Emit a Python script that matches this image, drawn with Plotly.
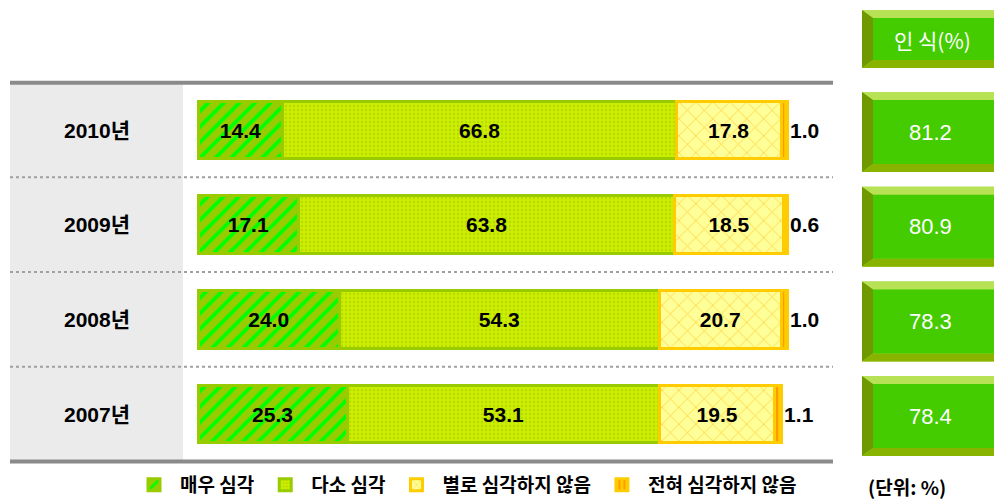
import plotly.graph_objects as go

# ---- data ----
years = ["2010년", "2009년", "2008년", "2007년"]
very_serious = [14.4, 17.1, 24.0, 25.3]
somewhat_serious = [66.8, 63.8, 54.3, 53.1]
not_very_serious = [17.8, 18.5, 20.7, 19.5]
not_at_all_serious = [1.0, 0.6, 1.0, 1.1]
awareness = [81.2, 80.9, 78.3, 78.4]
series_names = ["매우 심각", "다소 심각", "별로 심각하지 않음", "전혀 심각하지 않음"]
header_text = "인 식(%)"
unit_text = "(단위: %)"

# ---- geometry helpers (pixel -> axis units) ----
W, H = 994, 500
X0PX, PX_PER_UNIT = 198.0, 5.89
Y0PX, PX_PER_ROW = 130.0, 94.7


def px2x(px):
    return (px - X0PX) / PX_PER_UNIT


def px2y(px):
    return (px - Y0PX) / PX_PER_ROW


rows = list(range(len(years)))

fig = go.Figure()

num_font = dict(family="Liberation Sans, Arial, sans-serif", size=21, color="black")

styles = [
    dict(bg="#99CC00", fg="#00FF00", shape="/", size=11, solidity=0.35, line="#99CC00"),
    dict(bg="#CCEE00", fg="#B8DC00", shape=".", size=4, solidity=0.3, line="#99CC00"),
    dict(bg="#FFFF99", fg="#FFCC33", shape="x", size=12, solidity=0.12, line="#FFCC00"),
    dict(bg="#FFCC00", fg="#FF9900", shape="|", size=6, solidity=0.4, line="#FFCC00"),
]
series = [very_serious, somewhat_serious, not_very_serious, not_at_all_serious]

for i, (name, vals, st) in enumerate(zip(series_names, series, styles)):
    fig.add_trace(go.Bar(
        x=vals, y=rows, orientation="h", name=name,
        marker=dict(
            color=st["bg"],
            line=dict(color=st["line"], width=3),
            pattern=dict(shape=st["shape"], fgcolor=st["fg"], bgcolor=st["bg"],
                         size=st["size"], solidity=st["solidity"], fillmode="replace"),
        ),
        text=[f"{v:.1f}" for v in vals],
        texttemplate="<b>%{text}</b>",
        textposition="outside" if i == 3 else "inside",
        insidetextanchor="middle",
        textfont=num_font,
        constraintext="none",
        cliponaxis=False,
        hoverinfo="skip",
    ))

shapes = []
line_x0, line_x1 = px2x(10), px2x(833)
# gray band behind year labels
shapes.append(dict(type="rect", xref="x", yref="y", x0=line_x0, x1=px2x(183),
                   y0=-0.5, y1=3.5, fillcolor="#EBEBEB", line=dict(width=0), layer="below"))
# top / bottom solid rules
for yy in (-0.5, 3.5):
    shapes.append(dict(type="line", xref="x", yref="y", x0=line_x0, x1=line_x1,
                       y0=yy, y1=yy, line=dict(color="#8A8A8A", width=4), layer="above"))
# dotted separators
for yy in (0.5, 1.5, 2.5):
    shapes.append(dict(type="line", xref="x", yref="y", x0=line_x0, x1=line_x1,
                       y0=yy, y1=yy, line=dict(color="#A0A0A0", width=2, dash="dot"), layer="above"))


def bevel_box(yc, half_h):
    bx0, bx1 = px2x(862), px2x(1010)
    y0, y1 = yc - half_h, yc + half_h
    bw = 11 / PX_PER_UNIT
    bh = 8 / PX_PER_ROW
    out = []
    out.append(dict(type="rect", xref="x", yref="y", x0=bx0, x1=bx1, y0=y0, y1=y1,
                     fillcolor="#A8D838", line=dict(width=0)))
    # top light bevel
    out.append(dict(type="path", xref="x", yref="y",
                     path=f"M{bx0},{y0} L{bx1},{y0} L{bx1},{y0+bh} L{bx0+bw},{y0+bh} Z",
                     fillcolor="#B8E255", line=dict(width=0)))
    # left dark bevel
    out.append(dict(type="path", xref="x", yref="y",
                     path=f"M{bx0},{y0} L{bx0+bw},{y0+bh} L{bx0+bw},{y1-bh} L{bx0},{y1} Z",
                     fillcolor="#6E9A00", line=dict(width=0)))
    # bottom darker bevel
    out.append(dict(type="path", xref="x", yref="y",
                     path=f"M{bx0},{y1} L{bx0+bw},{y1-bh} L{bx1},{y1-bh} L{bx1},{y1} Z",
                     fillcolor="#88B400", line=dict(width=0)))
    # inner face
    out.append(dict(type="rect", xref="x", yref="y", x0=bx0 + bw, x1=bx1, y0=y0 + bh, y1=y1 - bh,
                     fillcolor="#44CC00", line=dict(width=0)))
    return out


shapes += bevel_box(px2y(39), 29 / PX_PER_ROW)
for r in rows:
    shapes += bevel_box(r + 2 / PX_PER_ROW, 40 / PX_PER_ROW)

annotations = []
annotations.append(dict(x=px2x(932), y=px2y(40), xref="x", yref="y", text=header_text,
                        showarrow=False, font=dict(family="Noto Sans CJK KR, sans-serif",
                                                   size=21, color="white")))
for r, y, a in zip(rows, years, awareness):
    annotations.append(dict(x=px2x(97), y=r, xref="x", yref="y", text=f"<b>{y}</b>",
                            showarrow=False,
                            font=dict(family="Liberation Sans, Noto Sans CJK KR, sans-serif",
                                      size=21, color="black")))
    annotations.append(dict(x=px2x(930), y=r + 2 / PX_PER_ROW, xref="x", yref="y", text=f"{a:.1f}",
                            showarrow=False,
                            font=dict(family="Liberation Sans, Arial, sans-serif", size=22,
                                      color="white")))
annotations.append(dict(x=907 / W, y=1 - 486 / H, xref="paper", yref="paper",
                        xanchor="center", yanchor="middle", text=f"<b>{unit_text}</b>",
                        showarrow=False,
                        font=dict(family="Noto Sans CJK KR, sans-serif", size=19, color="black")))

fig.update_layout(
    width=W, height=H,
    margin=dict(l=0, r=0, t=0, b=0, autoexpand=False),
    paper_bgcolor="white", plot_bgcolor="white",
    barmode="stack", bargap=0.39,
    showlegend=True,
    legend=dict(orientation="h", x=128 / W, y=1 - 485 / H, xanchor="left", yanchor="middle",
                bgcolor="rgba(0,0,0,0)", traceorder="normal", itemwidth=42,
                font=dict(family="Noto Sans CJK KR, sans-serif", size=19, color="black",
                          weight="bold")),
    xaxis=dict(range=[px2x(0), px2x(W)], visible=False, fixedrange=True),
    yaxis=dict(range=[px2y(H), px2y(0)], visible=False, fixedrange=True),
    shapes=shapes,
    annotations=annotations,
)

fig.write_html("out.html", config={"displayModeBar": False},
               post_script="document.body.style.margin='0';")
